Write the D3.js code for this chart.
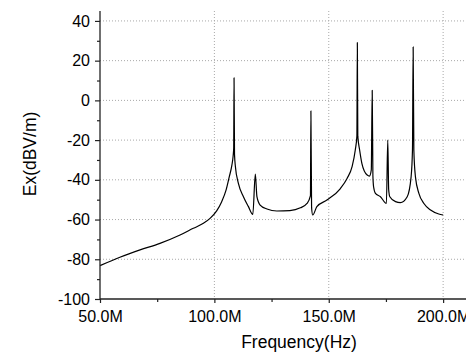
<!DOCTYPE html>
<html>
<head>
<meta charset="utf-8">
<script src="https://cdn.jsdelivr.net/npm/d3@7"></script>
<style>
html,body{margin:0;padding:0;background:#fff;}
svg{display:block;}
</style>
</head>
<body>
<svg id="chart" width="476" height="355"></svg>
<script>
// Frequency in MHz, field in dBV/m
const freqMHz = [50,58.7,67.5,76.2,85,90.8,95.2,98.1,101,103.2,105.1,106.5,107.6,108.2,108.45,108.6,108.8,109.2,110.5,112.7,114.9,116.8,117.9,118.6,120,123,127.3,133,137.6,140.5,142.0,142.2,142.5,143,144.8,149.2,155,158,160.2,161.6,162.3,162.5,162.7,163.5,164.5,166.8,167.8,168.6,169,169.3,169.6,170.4,172.6,175.2,175.8,176.2,176.7,179.2,181.3,184.3,186,186.6,186.9,187.2,187.9,189.4,191.6,194.5,198.1,200];
const exdB = [-83.2,-79,-75.3,-72,-67.8,-64.4,-61.9,-59.4,-55.6,-51,-45.2,-38.5,-33,-28,-24,11.4,-27,-33.4,-41.8,-48.5,-53.5,-57.4,-37.1,-48.5,-52.7,-54.7,-55.7,-55.5,-54.1,-51.9,-48,-5.3,-54,-57.7,-53.5,-50.2,-44.5,-39.3,-33.4,-25,-18,29.1,-18,-25,-31.8,-37.6,-38.1,-35,5.1,-38,-43.5,-46.8,-48.5,-51.9,-20,-45,-48.5,-51,-51.5,-48.5,-38.5,-25,26.9,-25,-38.5,-46.8,-51.9,-55.2,-57.2,-57.7];
const xTicks = [50,100,150,200];
const xMinor = [75,125,175];
const xTickLabels = ["50.0M","100.0M","150.0M","200.0M"];
const yTicks = [-100,-80,-60,-40,-20,0,20,40];
const yMinor = [-90,-70,-50,-30,-10,10,30];
const yGrid = [-80,-60,-40,-20,0,20,40];
const xGrid = [100,150,200];

const svg = d3.select("#chart");
const x = d3.scaleLinear().domain([50,210]).range([100,466]);
const y = d3.scaleLinear().domain([-100,45]).range([299,11]);
const font = "Liberation Sans, Arial, sans-serif";

// clip to the visible region (right edge cut)
svg.append("defs").append("clipPath").attr("id","cut")
  .append("rect").attr("x",0).attr("y",0).attr("width",466).attr("height",355);
const g = svg.append("g").attr("clip-path","url(#cut)");

// grid
g.append("g").selectAll("line").data(yGrid).join("line")
  .attr("x1",x(50)).attr("x2",x(210)).attr("y1",d=>y(d)).attr("y2",d=>y(d))
  .attr("stroke","#a8a8a8").attr("stroke-width",1).attr("stroke-dasharray","1,2");
g.append("g").selectAll("line").data(xGrid).join("line")
  .attr("x1",d=>x(d)).attr("x2",d=>x(d)).attr("y1",y(45)).attr("y2",y(-100))
  .attr("stroke","#a8a8a8").attr("stroke-width",1).attr("stroke-dasharray","1,2");

// curve
const line = d3.line().x((d,i)=>x(freqMHz[i])).y((d,i)=>y(exdB[i])).curve(d3.curveMonotoneX);
g.append("path").datum(exdB).attr("d",line)
  .attr("fill","none").attr("stroke","#000").attr("stroke-width",1.2).attr("stroke-linejoin","round");

// axes
const xAxis = d3.axisBottom(x).tickValues(xTicks).tickSize(4).tickFormat((d,i)=>xTickLabels[i]);
const xa = g.append("g").attr("transform",`translate(0,${y(-100)})`).call(xAxis);
xa.select(".domain").attr("d",`M${x(50)},0H${x(210)}`);
g.append("g").attr("transform",`translate(0,${y(-100)})`)
  .call(d3.axisBottom(x).tickValues(xMinor).tickSize(3).tickFormat(""))
  .select(".domain").remove();

const yAxis = d3.axisLeft(y).tickValues(yTicks).tickSize(5).tickFormat(d=>String(d));
const ya = g.append("g").attr("transform",`translate(${x(50)},0)`).call(yAxis);
ya.select(".domain").attr("d",`M0,${y(45)}V${y(-100)}`);
g.append("g").attr("transform",`translate(${x(50)},0)`)
  .call(d3.axisLeft(y).tickValues(yMinor).tickSize(3).tickFormat(""))
  .select(".domain").remove();

svg.selectAll(".domain").attr("stroke","#222").attr("stroke-width",1.3);
svg.selectAll(".tick line").attr("stroke","#222").attr("stroke-width",1.2);
xa.selectAll(".tick text").attr("font-family",font).attr("font-size",16).attr("fill","#000").attr("dy","0.71em").attr("y",12);
ya.selectAll(".tick text").attr("font-family",font).attr("font-size",16).attr("fill","#000").attr("x",-10);

// titles
svg.append("text").attr("x",299).attr("y",348).attr("text-anchor","middle")
  .attr("font-family",font).attr("font-size",17.5).attr("fill","#000").text("Frequency(Hz)");
svg.append("text").attr("transform",`translate(36,154) rotate(-90)`).attr("text-anchor","middle")
  .attr("font-family",font).attr("font-size",17.5).attr("fill","#000").text("Ex(dBV/m)");
</script>
</body>
</html>
